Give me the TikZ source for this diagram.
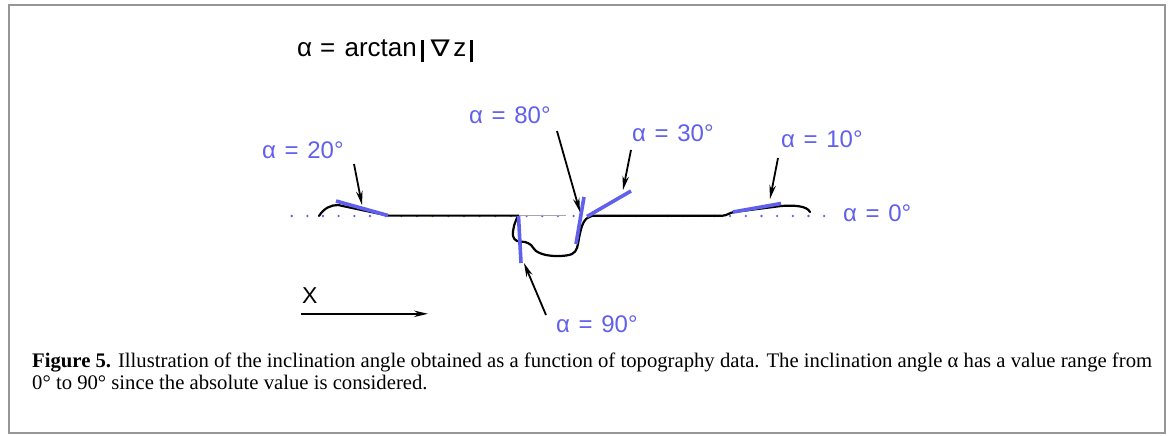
\documentclass[tikz,border=0pt]{standalone}
\usepackage{fontspec}
\usepackage{graphicx}
\setmainfont{Liberation Serif}
\newfontfamily\labfont{Liberation Sans}
\newfontfamily\symfont{DejaVu Sans}
\newfontfamily\capfont{Liberation Serif}
\usetikzlibrary{arrows.meta}
\definecolor{angblue}{RGB}{96,96,236}
\definecolor{framegray}{RGB}{150,150,150}
\newcommand{\eqsp}{\hspace{0.36em}}
\newcommand{\absbar}{\rule[-5.5pt]{2.4pt}{22.5pt}}
\tikzset{
  lab/.style={font=\labfont\fontsize{24}{27}\selectfont, text=angblue, anchor=base west, inner sep=0pt},
  blk/.style={font=\labfont\fontsize{24}{27}\selectfont, text=black, anchor=base west, inner sep=0pt},
  seg/.style={draw=angblue, line width=3.6pt},
  prof/.style={draw=black, line width=2.2pt, line cap=round, line join=round},
  pointer/.style={draw=black, line width=1.8pt, -{Stealth[length=14pt,width=6.5pt]}},
  captext/.style={anchor=base west, inner sep=0pt, font=\capfont\fontsize{20.7}{24}\selectfont}
}
\begin{document}
\begin{tikzpicture}[x=1pt,y=-1pt]
\useasboundingbox (0,0) rectangle (1171,436);
\fill[white] (0,0) rectangle (1171,436);
\draw[framegray, line width=2pt] (9,5.5) rectangle (1165,433);

% formula
\node[blk, font=\labfont\fontsize{26}{30}\selectfont] (formula) at (297,56.7) {α\hspace{0.3em}=\hspace{0.36em}arctan\hspace{4.5pt}\absbar\hspace{7pt}\scalebox{1.25}[1]{\symfont\fontsize{23}{26}\selectfont ∇}\hspace{3.5pt}z\hspace{4pt}\absbar};

% reference (alpha = 0) dotted line
\foreach \i in {0,...,34} \fill[angblue] (291.7+15.66*\i,216) circle (1.3);
\draw[gray!70, line width=0.8pt] (518,215.6) -- (566,215.6);

% profile
\draw[prof] (319,216) .. controls (324,208) and (331,205) .. (338,205) -- (388,215.6) -- (518,215.6);
\draw[prof] plot[smooth, tension=0.6] coordinates {(518,215.6) (514,226) (513,236) (517,241) (525,242) (531,245) (536,251) (546,255) (560,256) (572,254) (577,248) (579,238) (582,226) (586,219) (592,216)};
\draw[prof] (592,215.8) -- (722,215.8) .. controls (727,215.5) and (729,213) .. (734,212) -- (781,206) .. controls (795,205) and (807,206) .. (810,212);

% blue inclination segments
\draw[seg] (336,201) -- (388,215.5);
\draw[seg] (576,244) -- (584,197);
\draw[seg] (587,216.5) -- (631,191);
\draw[seg] (733,212) -- (781,203.5);
\draw[seg] (518.5,216) -- (521,263);

% labels
\node[lab] (a20) at (262,158) {α\eqsp=\eqsp 20°};
\node[lab] (a80) at (469,124) {α\eqsp=\eqsp 80°};
\node[lab] (a30) at (632,141.7) {α\eqsp=\eqsp 30°};
\node[lab] (a10) at (781,147) {α\eqsp=\eqsp 10°};
\node[lab] (a0)  at (843,221) {α\eqsp=\eqsp 0°};
\node[lab] (a90) at (556,332) {α\eqsp=\eqsp 90°};
\node[blk, font=\labfont\fontsize{23}{26}\selectfont] (xlab) at (302,303) {X};

% pointer arrows
\coordinate (t20a) at (354,164); \coordinate (h20a) at (362,205);
\coordinate (t80a) at (557,131); \coordinate (h80a) at (580,212);
\coordinate (t30a) at (631,150); \coordinate (h30a) at (623,190);
\coordinate (t10a) at (778,158); \coordinate (h10a) at (770,199);
\coordinate (t90a) at (546,315); \coordinate (h90a) at (524,263);
\coordinate (txa) at (301,313.8); \coordinate (hxa) at (428,313.8);
\draw[pointer] (t20a) -- (h20a);
\draw[pointer] (t80a) -- (h80a);
\draw[pointer] (t30a) -- (h30a);
\draw[pointer] (t10a) -- (h10a);
\draw[pointer] (t90a) -- (h90a);
\draw[pointer] (txa) -- (hxa);

% caption
\node[captext] (cap1) at (32,367) {\textbf{Figure 5.} Illustration of the inclination angle obtained as a function of topography data. The inclination angle α has a value range from};
\node[captext] (cap2) at (32,389.5) {0° to 90° since the absolute value is considered.};
\end{tikzpicture}
\end{document}
